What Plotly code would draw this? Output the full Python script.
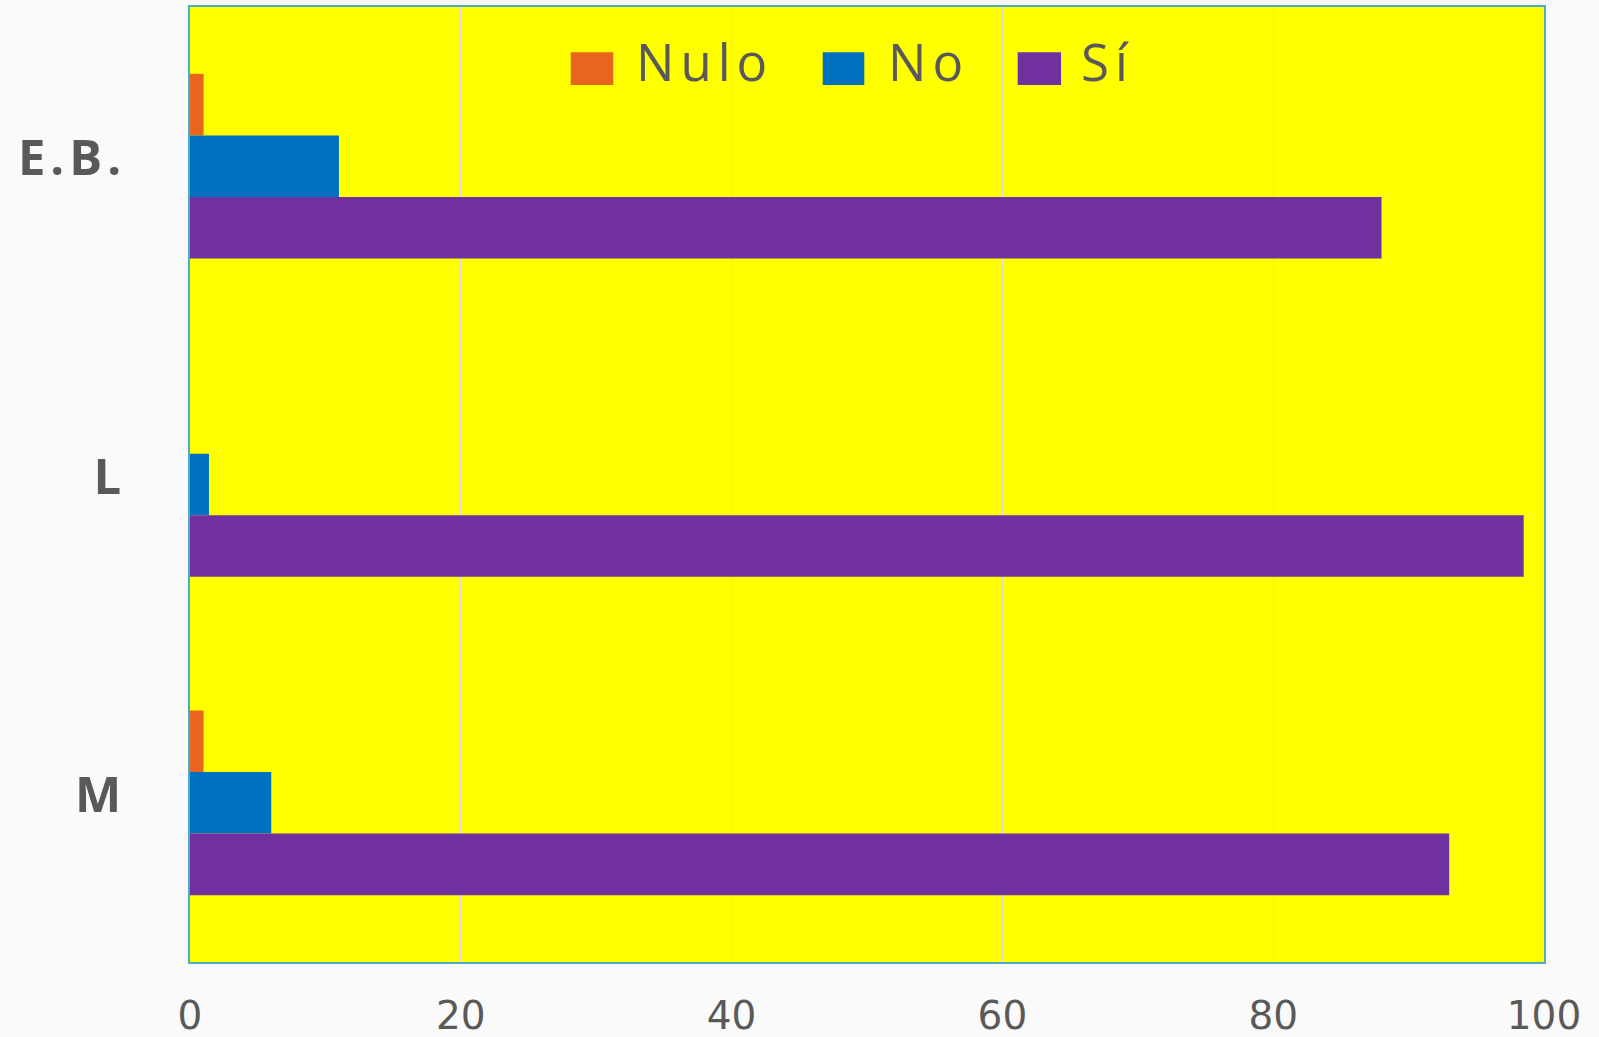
import plotly.graph_objects as go

categories = ["E.B.", "L", "M"]
series_names = ["Nulo", "No", "Sí"]
nulo_values = [1.0, 0.0, 1.0]
no_values = [11.0, 1.4, 6.0]
si_values = [88.0, 98.5, 93.0]
colors = ["#E9651D", "#0070C0", "#7030A0"]
x_ticks = [0, 20, 40, 60, 80, 100]

font_family = "Open Sans, Noto Sans, sans-serif"
wide_family = "DejaVu Sans, Verdana, sans-serif"
text_color = "#595959"


def spaced(s, px, bold=False):
    inner = f"<b>{s}</b>" if bold else s
    return f'<span style="letter-spacing:{px}px">{inner}</span>'


fig = go.Figure()
for name, vals, col in zip(series_names, [nulo_values, no_values, si_values], colors):
    fig.add_trace(go.Bar(
        y=categories, x=vals, name=name, orientation="h",
        marker=dict(color=col, line=dict(width=0)),
        showlegend=False,
    ))

# custom legend (large swatches) at top centre of plot area
swatch_x0 = [0.2812, 0.4673, 0.6113]
swatch_x1 = [0.3126, 0.4980, 0.6433]
text_x0 = [0.3282, 0.5143, 0.6568]
for name, col, sx0, sx1, tx in zip(series_names, colors, swatch_x0, swatch_x1, text_x0):
    fig.add_shape(type="rect", xref="paper", yref="paper",
                  x0=sx0, x1=sx1, y0=0.9183, y1=0.9526,
                  fillcolor=col, line=dict(width=0))
    fig.add_annotation(xref="paper", yref="paper", x=tx, y=0.9432,
                       text=spaced(name, 6), showarrow=False,
                       xanchor="left", yanchor="middle",
                       font=dict(family=font_family, size=51, color=text_color))

fig.update_layout(
    width=1599, height=1037,
    margin=dict(l=190, r=55, t=7, b=75, autoexpand=False),
    paper_bgcolor="#FAFAFA",
    plot_bgcolor="#FFFF00",
    barmode="group",
    bargap=0.42,
    bargroupgap=0,
    font=dict(family=font_family, color=text_color),
    xaxis=dict(
        range=[0, 100], tickvals=x_ticks, ticktext=[str(t) for t in x_ticks],
        showgrid=True, gridcolor="#D9D9D9", gridwidth=1,
        showline=True, mirror=True, linecolor="#4BACC6", linewidth=2,
        zeroline=False, ticks="", ticklabelstandoff=18, automargin=False,
        tickfont=dict(family=wide_family, size=39, color=text_color),
    ),
    yaxis=dict(
        autorange="reversed", showgrid=False,
        tickvals=categories, ticktext=[spaced(c, 5, bold=True) for c in categories],
        showline=True, mirror=True, linecolor="#4BACC6", linewidth=2,
        ticks="", ticklabelstandoff=52, ticklabelshift=8, automargin=False,
        tickfont=dict(family=font_family, size=49, color=text_color),
    ),
)

fig.write_html(
    "out.html",
    config={"displayModeBar": False},
    post_script="document.body.style.margin='0';document.body.style.overflow='hidden';",
)
